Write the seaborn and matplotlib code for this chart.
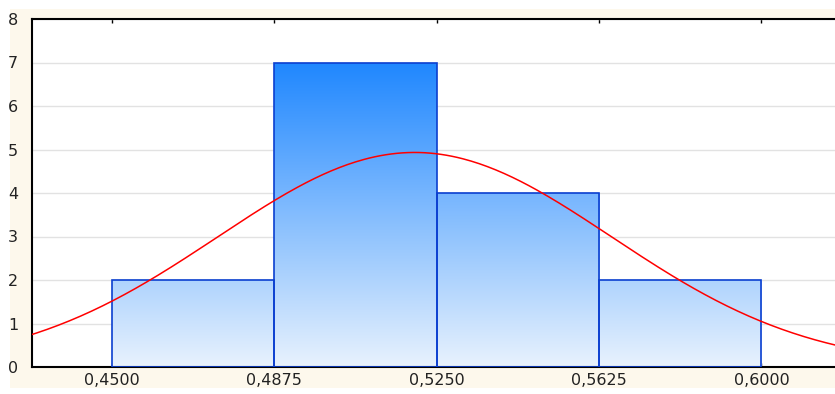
import numpy as np
import pandas as pd
import matplotlib
matplotlib.use('Agg')
import matplotlib.pyplot as plt
import seaborn as sns
from matplotlib.colors import LinearSegmentedColormap
from matplotlib.patches import Rectangle

# Dados do histograma
bin_edges = [0.45, 0.4875, 0.525, 0.5625, 0.60]
bin_centers = [0.46875, 0.50625, 0.54375, 0.58125]
counts = [2, 7, 4, 2]
tick_pos = [0.45, 0.4875, 0.525, 0.5625, 0.60]
tick_labels = ["0,4500", "0,4875", "0,5250", "0,5625", "0,6000"]
y_ticks = [0, 1, 2, 3, 4, 5, 6, 7, 8]

# Curva normal ajustada (parâmetros estimados)
fit_mean = 0.5199
fit_sd = 0.0455
n_obs = 15

sns.set_theme(style="white")
plt.rcParams['font.family'] = ['DejaVu Sans']

fig = plt.figure(figsize=(8.35, 3.94), dpi=100)
fig.patch.set_facecolor("white")
# fundo creme em volta do gráfico
fig.patches.append(Rectangle((10 / 835, 6 / 394), 825 / 835, 379 / 394,
                             transform=fig.transFigure, facecolor="#fdf8ec",
                             edgecolor="none", zorder=-10))
ax = fig.add_axes([32 / 835, 27 / 394, 803 / 835, 348 / 394])
ax.set_zorder(1)
ax.set_facecolor("white")

df = pd.DataFrame({"valor": bin_centers, "freq": counts})
sns.histplot(data=df, x="valor", weights="freq", bins=bin_edges, ax=ax,
             facecolor="none", edgecolor="#0b3fd0", linewidth=1.2, zorder=3)

# preenchimento em degradê para cada barra
cmap = LinearSegmentedColormap.from_list("grad", ["#e8f2fd", "#1f87ff"])
top = max(counts)
grad = np.linspace(0, 1, 256).reshape(-1, 1)
for patch in list(ax.patches):
    x0, w = patch.get_x(), patch.get_width()
    im = ax.imshow(grad, cmap=cmap, origin="lower", aspect="auto",
                   extent=(x0, x0 + w, 0, top), zorder=2, interpolation="bicubic")
    im.set_clip_path(patch)

# curva normal
xs = np.linspace(0.43, 0.62, 300)
pdf = n_obs * 0.0375 / (fit_sd * np.sqrt(2 * np.pi)) * np.exp(-0.5 * ((xs - fit_mean) / fit_sd) ** 2)
sns.lineplot(x=xs, y=pdf, ax=ax, color="#ff0000", linewidth=1.1, zorder=4)

ax.set_xlim(0.4315, 0.617)
ax.set_ylim(0, 8)
ax.set_xticks(tick_pos)
ax.set_xticklabels(tick_labels)
ax.set_yticks(y_ticks)
ax.set_xlabel("")
ax.set_ylabel("")
ax.yaxis.grid(True, color="#e2e2e2", linewidth=1)
ax.set_axisbelow(True)
for s in ["left", "bottom", "top"]:
    ax.spines[s].set_color("black")
    ax.spines[s].set_linewidth(1.5)
ax.spines["right"].set_visible(False)
ax.tick_params(axis="x", which="both", top=True, bottom=True, direction="in",
               length=3, width=1, color="black", labelsize=11.5, pad=4,
               labelcolor="#222222")
ax.tick_params(axis="y", length=0, labelsize=11.5, pad=10, labelcolor="#222222")

fig.savefig("out.png", dpi=100, facecolor=fig.get_facecolor())
